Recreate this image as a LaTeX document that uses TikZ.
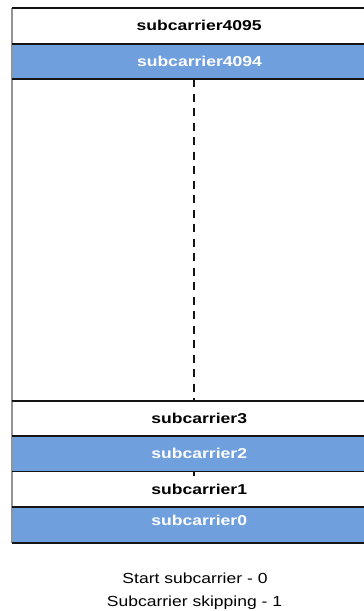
\documentclass[tikz,border=0pt]{standalone}
\usepackage{fontspec}
\usepackage{graphicx}
\setmainfont{Liberation Sans}
\definecolor{rowblue}{RGB}{111,159,220}
\definecolor{rule}{RGB}{20,20,20}
\tikzset{
  sep/.style={draw=rule, line width=1.6pt},
  lbl/.style={anchor=base, inner sep=0pt, font=\fontsize{14.3}{16}\selectfont\bfseries},
  lblw/.style={lbl, text=white},
  note/.style={anchor=base, inner sep=0pt, font=\fontsize{14.6}{16}\selectfont},
  divider/.style={draw=rule, line width=1.3pt, dash pattern=on 8pt off 6.5pt}
}
\newcommand{\wide}[2]{\scalebox{#1}[1]{#2}}
\begin{document}
\begin{tikzpicture}[x=1pt,y=-1pt]
\useasboundingbox (0,0) rectangle (364,611);
% filled rows
\fill[rowblue] (12,44) rectangle (366,79);
\fill[rowblue] (12,436) rectangle (366,471.5);
\fill[rowblue] (12,507) rectangle (366,543);
% dashed divider
\coordinate (dtop) at (194,79);
\coordinate (dbot) at (194,401);
\draw[divider] (dtop) -- (dbot);
\coordinate (ttop) at (194,471.5);
\coordinate (tbot) at (194,476);
\draw[draw=rule, line width=1.1pt] (ttop) -- (tbot);
% left border
\coordinate (ltop) at (12,8);
\coordinate (lbot) at (12,543);
\draw[draw=gray!85, line width=1.1pt] (ltop) -- (lbot);
% separators
\foreach \y in {8,44,79,401,436,471.5,507,543}{
  \draw[sep] (11.5,\y) -- (366,\y);
}
% labels
\node[lbl]  (s4095) at (199.2,30.3) {\wide{1.228}{subcarrier4095}};
\node[lblw] (s4094) at (199.5,66.6) {\wide{1.228}{subcarrier4094}};
\node[lbl]  (s3) at (199.2,423.3) {\wide{1.228}{subcarrier3}};
\node[lblw] (s2) at (199.2,458.3) {\wide{1.228}{subcarrier2}};
\node[lbl]  (s1) at (199.2,494.3) {\wide{1.228}{subcarrier1}};
\node[lblw] (s0) at (199.2,525) {\wide{1.228}{subcarrier0}};
\node[note] (n1) at (195,583.3) {\wide{1.2}{Start subcarrier - 0}};
\node[note] (n2) at (194.5,606) {\wide{1.2}{Subcarrier skipping - 1}};
\end{tikzpicture}
\end{document}
